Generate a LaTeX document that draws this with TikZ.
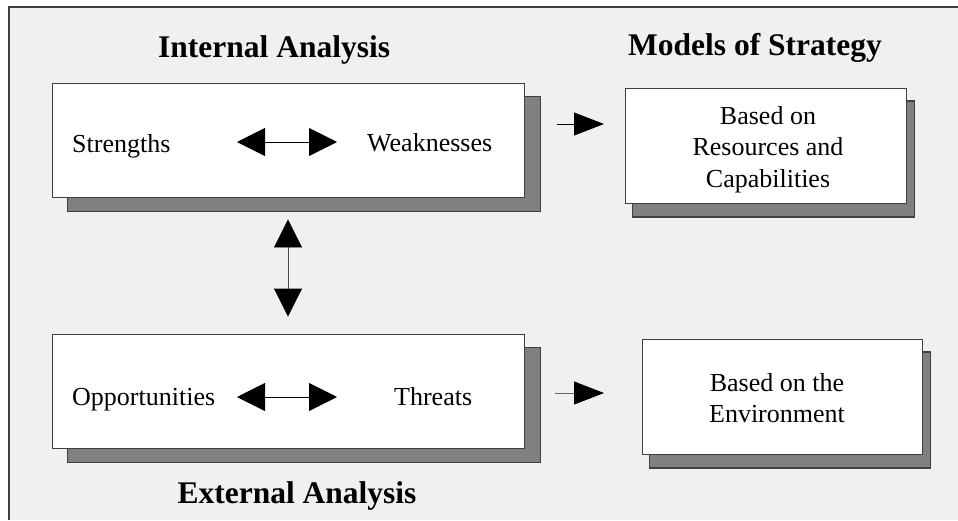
\documentclass[tikz,border=0pt]{standalone}
\usepackage{fontspec}
\setmainfont{Liberation Serif}
\usetikzlibrary{arrows.meta,backgrounds}
\pgfdeclarelayer{shadowlayer}
\pgfsetlayers{background,shadowlayer,main}
\definecolor{bgc}{HTML}{F0F0F0}
\definecolor{shd}{HTML}{808080}
\definecolor{edge}{HTML}{404040}
\tikzset{
  panel/.style={draw=edge, line width=0.9pt, fill=white, inner sep=0pt},
  shadowbox/.style={fill=shd, draw=edge, line width=1.2pt},
  body/.style={font=\fontsize{26pt}{31.5pt}\selectfont, inner sep=0pt},
  title/.style={font=\fontsize{31.5pt}{36pt}\selectfont\bfseries, inner sep=0pt},
  dbl/.style={line width=0.9pt, {Triangle[length=28pt,width=28pt,black]}-{Triangle[length=28pt,width=28pt,black]}},
  fwd/.style={line width=0.9pt, -{Triangle[length=30pt,width=23pt,black]}}
}
\begin{document}
\begin{tikzpicture}[x=1pt,y=-1pt]
\useasboundingbox (0,0) rectangle (958,520);
\begin{pgfonlayer}{background}
\fill[white] (0,0) rectangle (958,520);
\fill[bgc] (9,7) rectangle (958,520);
\draw[edge, line width=1.2pt] (9,520) -- (9,7) -- (958,7);
\end{pgfonlayer}

% boxes
\node[panel, minimum width=472pt, minimum height=114pt] (ib) at (288,140) {};
\node[panel, minimum width=472pt, minimum height=114pt] (ob) at (288,391) {};
\node[panel, minimum width=281pt, minimum height=115pt] (rb) at (765.5,145.5) {};
\node[panel, minimum width=280pt, minimum height=115pt] (vb) at (782,396.5) {};

% shadows
\begin{pgfonlayer}{shadowlayer}
\draw[shadowbox] ([shift={(16,14)}]ib.north west) rectangle ([shift={(16,14)}]ib.south east);
\draw[shadowbox] ([shift={(16,14)}]ob.north west) rectangle ([shift={(16,14)}]ob.south east);
\draw[shadowbox] ([shift={(8,13.5)}]rb.north west) rectangle ([shift={(8,13.5)}]rb.south east);
\draw[shadowbox] ([shift={(8,13.5)}]vb.north west) rectangle ([shift={(8,13.5)}]vb.south east);
\end{pgfonlayer}

% titles
\node[title, anchor=base west] (tin) at (158,57) {Internal Analysis};
\node[title, anchor=base west] (tms) at (628,55) {Models of Strategy};
\node[title, anchor=base] (tex) at (297,503) {External Analysis};

% texts
\node[body, anchor=base west] (s) at (72,152) {Strengths};
\node[body, anchor=base west] (w) at (367,151) {Weaknesses};
\node[body, anchor=base west] (o) at (72,405) {Opportunities};
\node[body, anchor=base west] (t) at (394,405) {Threats};
\node[body, align=center, anchor=north] (rbt) at (768,106) {Based on\\Resources and\\Capabilities};
\node[body, align=center, anchor=north] (vbt) at (777,373) {Based on the\\Environment};

% arrows
\coordinate (swL) at (237,142);
\coordinate (swR) at (337,142);
\draw[dbl] (swL) -- (swR);
\coordinate (otL) at (237,397);
\coordinate (otR) at (337,397);
\draw[dbl] (otL) -- (otR);
\draw[dbl, draw=black!70, shorten <=22pt, shorten >=17pt] (ib.south) -- (ob.north);
\coordinate (r1s) at (557,124);
\coordinate (r1e) at (604,124);
\draw[fwd] (r1s) -- (r1e);
\coordinate (r2s) at (555,393);
\coordinate (r2e) at (604,393);
\draw[fwd, draw=black!60] (r2s) -- (r2e);
\end{tikzpicture}
\end{document}
